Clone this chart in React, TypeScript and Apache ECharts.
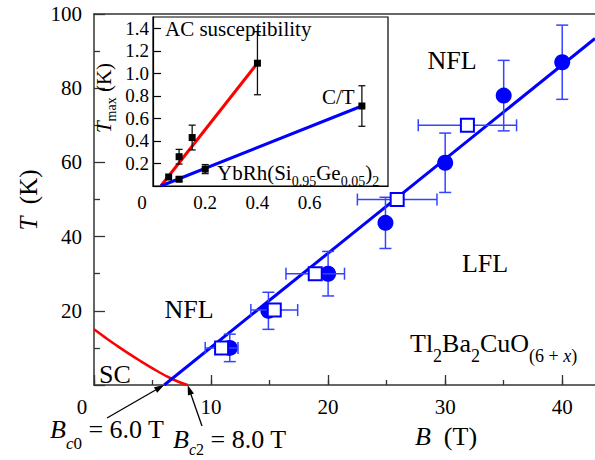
import React, { useEffect, useRef } from "react";
import * as echarts from "echarts";

const FONT = '"Liberation Serif", "Times New Roman", Times, serif';

// ---- Main panel: Tl2Ba2CuO(6+x) ----
const circleB = [11.6, 14.9, 20.0, 24.9, 30.0, 35.0, 40.0];
const circleT = [10.0, 20.0, 30.0, 43.7, 59.9, 78.0, 87.0];
const circleErrT = [3.7, 5.0, 6.0, 6.9, 8.0, 9.5, 10.0];
const squareB = [10.9, 15.4, 18.9, 25.9, 31.9];
const squareT = [10.0, 20.2, 30.0, 50.0, 70.0];
const squareErrB = [1.4, 2.0, 2.5, 3.4, 4.2];
const fitB = [6.0, 42.8];
const fitT = [0.0, 93.4];
const scB = [0, 1, 2, 3, 4, 5, 6, 7, 8];
const scT = [15.0, 12.7, 10.5, 8.4, 6.4, 4.5, 2.7, 1.15, 0.0];
const Bc0 = 6.0;
const Bc2 = 8.0;
const xTickLabels = [0, 10, 20, 30, 40];
const yTickLabels = [20, 40, 60, 80, 100];

// ---- Inset: YbRh2(Si0.95Ge0.05)2 ----
const acB = [0.06, 0.1, 0.15, 0.4];
const acT = [0.08, 0.26, 0.43, 1.09];
const acErr = [0.0, 0.065, 0.11, 0.28];
const ctB = [0.1, 0.2, 0.8];
const ctT = [0.06, 0.15, 0.71];
const ctErr = [0.02, 0.04, 0.18];
const acFitB = [0.03, 0.4];
const acFitT = [0.0, 1.09];
const ctFitB = [0.03, 0.8];
const ctFitT = [0.0, 0.71];
const insetXLabels = [0, 0.2, 0.4, 0.6];
const insetYLabels = [0.2, 0.4, 0.6, 0.8, 1.0, 1.2, 1.4];

const near = (a: number, b: number) => Math.abs(a - b) < 1e-6;

function vErr(color: string, cap: number, lw: number) {
  return (params: any, api: any) => {
    const x = api.value(0), y = api.value(1), e = api.value(2);
    const a = api.coord([x, y + e]);
    const b = api.coord([x, y - e]);
    const style = { stroke: color, lineWidth: lw };
    return {
      type: "group",
      children: [
        { type: "line", shape: { x1: a[0], y1: a[1], x2: b[0], y2: b[1] }, style },
        { type: "line", shape: { x1: a[0] - cap, y1: a[1], x2: a[0] + cap, y2: a[1] }, style },
        { type: "line", shape: { x1: b[0] - cap, y1: b[1], x2: b[0] + cap, y2: b[1] }, style },
      ],
    };
  };
}

function hErr(color: string, cap: number, lw: number) {
  return (params: any, api: any) => {
    const x = api.value(0), y = api.value(1), e = api.value(2);
    const a = api.coord([x - e, y]);
    const b = api.coord([x + e, y]);
    const style = { stroke: color, lineWidth: lw };
    return {
      type: "group",
      children: [
        { type: "line", shape: { x1: a[0], y1: a[1], x2: b[0], y2: b[1] }, style },
        { type: "line", shape: { x1: a[0], y1: a[1] - cap, x2: a[0], y2: a[1] + cap }, style },
        { type: "line", shape: { x1: b[0], y1: b[1] - cap, x2: b[0], y2: b[1] + cap }, style },
      ],
    };
  };
}

function richStyles(m: number, s: number, drop: number) {
  const P = 2 * (drop + 0.3375 * (m - s));
  return {
    m: { fontSize: m, fontFamily: FONT, fill: "#000", lineHeight: m * 1.2 },
    mi: { fontSize: m, fontFamily: FONT, fontStyle: "italic", fill: "#000", lineHeight: m * 1.2 },
    s: { fontSize: s, fontFamily: FONT, fill: "#000", lineHeight: s, padding: [P, 0, 0, 0] },
    si: { fontSize: s, fontFamily: FONT, fontStyle: "italic", fill: "#000", lineHeight: s, padding: [P, 0, 0, 0] },
  };
}

function rtext(x: number, baseline: number, text: string, m: number, s: number, drop: number, align = "left") {
  return {
    type: "text",
    x,
    y: baseline - 0.3375 * m,
    z: 50,
    style: {
      text,
      rich: richStyles(m, s, drop),
      fontSize: m,
      fontFamily: FONT,
      align,
      textAlign: align,
      verticalAlign: "middle",
      textVerticalAlign: "middle",
    },
  };
}

function ptext(x: number, y: number, text: string, size: number, align = "center") {
  return {
    type: "text",
    x,
    y,
    z: 50,
    style: {
      text,
      fontSize: size,
      fontFamily: FONT,
      fill: "#000",
      align,
      textAlign: align,
      verticalAlign: "middle",
      textVerticalAlign: "middle",
    },
  };
}

function arrow(tail: number[], tip: number[]) {
  const dx = tip[0] - tail[0], dy = tip[1] - tail[1];
  const len = Math.sqrt(dx * dx + dy * dy);
  const ux = dx / len, uy = dy / len;
  const hl = 10, hw = 3.2;
  const bx = tip[0] - ux * hl, by = tip[1] - uy * hl;
  return [
    {
      type: "line",
      z: 50,
      shape: { x1: tail[0], y1: tail[1], x2: bx + ux * 2, y2: by + uy * 2 },
      style: { stroke: "#000", lineWidth: 1.3 },
    },
    {
      type: "polygon",
      z: 50,
      shape: {
        points: [
          [tip[0], tip[1]],
          [bx - uy * hw, by + ux * hw],
          [bx + uy * hw, by - ux * hw],
        ],
      },
      style: { fill: "#000" },
    },
  ];
}

export default function App() {
  const ref = useRef<HTMLDivElement>(null);
  useEffect(() => {
    document.body.style.margin = "0";
    const chart = echarts.init(ref.current!, null, { renderer: "svg" });
    const axisCol = "#333";
    const XMAX = 42.8;
    const unit = (595 - 94) / XMAX;
    const option: any = {
      animation: false,
      grid: [
        { left: 94, top: 14, right: 0, height: 371, show: false },
        {
          left: 153,
          top: 17,
          width: 235,
          height: 169,
          show: true,
          backgroundColor: "#fff",
          borderColor: "#000",
          borderWidth: 1.2,
          z: 5,
        },
        // helper grid for minor ticks on the B axis (0..40 only)
        { left: 94, top: 14, width: 40 * unit, height: 371, show: false },
      ],
      xAxis: [
        {
          gridIndex: 0,
          type: "value",
          min: 0,
          max: XMAX,
          interval: 10,
          axisLine: { show: true, onZero: false, lineStyle: { color: axisCol, width: 1.5 } },
          axisTick: { show: true, inside: true, length: 10, lineStyle: { color: axisCol, width: 1.3 } },
          splitLine: { show: false },
          axisLabel: {
            fontSize: 21,
            fontFamily: FONT,
            color: "#000",
            margin: 11,
            showMaxLabel: false,
            formatter: (v: number) =>
              near(v, 0) ? "{z|0}" : xTickLabels.some((t) => near(t, v)) ? String(v) : "",
            rich: { z: { fontSize: 21, fontFamily: FONT, color: "#000", padding: [0, 24, 0, 0] } },
          },
        },
        {
          gridIndex: 0,
          type: "value",
          position: "top",
          min: 0,
          max: XMAX,
          axisLine: { show: true, onZero: false, lineStyle: { color: axisCol, width: 1.5 } },
          axisTick: { show: false },
          axisLabel: { show: false },
          splitLine: { show: false },
        },
        {
          gridIndex: 1,
          type: "value",
          min: 0,
          max: 0.9,
          interval: 0.2,
          axisLine: { show: true, onZero: false, lineStyle: { color: "#000", width: 1.2 } },
          axisTick: { show: false },
          splitLine: { show: false },
          z: 10,
          axisLabel: {
            fontSize: 19,
            fontFamily: FONT,
            color: "#000",
            margin: 7,
            formatter: (v: number) =>
              near(v, 0)
                ? "{z|0}"
                : insetXLabels.some((t) => near(t, v))
                ? (Math.round(v * 10) / 10).toFixed(1)
                : "",
            rich: { z: { fontSize: 19, fontFamily: FONT, color: "#000", padding: [0, 22, 0, 0] } },
          },
        },
        {
          gridIndex: 2,
          type: "value",
          min: 0,
          max: 40,
          interval: 5,
          axisLine: { show: false, onZero: false },
          axisTick: { show: true, inside: true, length: 5, lineStyle: { color: axisCol, width: 1.3 } },
          axisLabel: { show: false },
          splitLine: { show: false },
        },
      ],
      yAxis: [
        {
          gridIndex: 0,
          type: "value",
          min: 0,
          max: 100,
          interval: 20,
          axisLine: { show: true, onZero: false, lineStyle: { color: axisCol, width: 1.5 } },
          axisTick: { show: true, inside: true, length: 11, lineStyle: { color: axisCol, width: 1.3 } },
          minorTick: { show: true, splitNumber: 2, length: 6, lineStyle: { color: axisCol, width: 1.3 } },
          splitLine: { show: false },
          axisLabel: {
            fontSize: 21,
            fontFamily: FONT,
            color: "#000",
            margin: 12,
            formatter: (v: number) => (yTickLabels.some((t) => near(t, v)) ? String(v) : ""),
          },
        },
        {
          gridIndex: 1,
          type: "value",
          min: 0,
          max: 1.5,
          interval: 0.2,
          z: 10,
          axisLine: { show: true, onZero: false, lineStyle: { color: "#000", width: 1.2 } },
          axisTick: { show: true, inside: true, length: 8, lineStyle: { color: "#000", width: 1.2 } },
          splitLine: { show: false },
          axisLabel: {
            fontSize: 19,
            fontFamily: FONT,
            color: "#000",
            margin: 4,
            showMaxLabel: false,
            formatter: (v: number) =>
              insetYLabels.some((t) => near(t, v)) ? v.toFixed(1) : "",
          },
        },
        {
          gridIndex: 2,
          type: "value",
          min: 0,
          max: 100,
          show: false,
        },
      ],
      series: [
        {
          type: "line",
          xAxisIndex: 0,
          yAxisIndex: 0,
          data: scB.map((b, i) => [b, scT[i]]),
          smooth: true,
          symbol: "none",
          lineStyle: { color: "#ff0000", width: 2.5 },
          z: 3,
        },
        {
          type: "line",
          xAxisIndex: 0,
          yAxisIndex: 0,
          data: fitB.map((b, i) => [b, fitT[i]]),
          symbol: "none",
          lineStyle: { color: "#0000ff", width: 3 },
          z: 3,
        },
        {
          type: "custom",
          xAxisIndex: 0,
          yAxisIndex: 0,
          renderItem: vErr("#3344ff", 6, 1.5),
          data: circleB.map((b, i) => [b, circleT[i], circleErrT[i]]),
          encode: { x: 0, y: 1 },
          z: 4,
        },
        {
          type: "scatter",
          xAxisIndex: 0,
          yAxisIndex: 0,
          data: circleB.map((b, i) => [b, circleT[i]]),
          symbol: "circle",
          symbolSize: 16,
          itemStyle: { color: "#0000ff", opacity: 1 },
          z: 5,
        },
        {
          type: "custom",
          xAxisIndex: 0,
          yAxisIndex: 0,
          renderItem: hErr("#3344ff", 6, 1.5),
          data: squareB.map((b, i) => [b, squareT[i], squareErrB[i]]),
          encode: { x: 0, y: 1 },
          z: 6,
        },
        {
          type: "scatter",
          xAxisIndex: 0,
          yAxisIndex: 0,
          data: squareB.map((b, i) => [b, squareT[i]]),
          symbol: "rect",
          symbolSize: 13,
          itemStyle: { color: "#ffffff", borderColor: "#0000ff", borderWidth: 2, opacity: 1 },
          z: 7,
        },
        // inset
        {
          type: "line",
          xAxisIndex: 2,
          yAxisIndex: 1,
          data: acFitB.map((b, i) => [b, acFitT[i]]),
          symbol: "none",
          lineStyle: { color: "#ff0000", width: 3 },
          z: 10,
        },
        {
          type: "line",
          xAxisIndex: 2,
          yAxisIndex: 1,
          data: ctFitB.map((b, i) => [b, ctFitT[i]]),
          symbol: "none",
          lineStyle: { color: "#0000ff", width: 3 },
          z: 10,
        },
        {
          type: "custom",
          xAxisIndex: 2,
          yAxisIndex: 1,
          renderItem: vErr("#111", 3.5, 1.3),
          data: acB
            .map((b, i) => [b, acT[i], acErr[i]])
            .filter((d) => d[2] > 0)
            .concat(ctB.map((b, i) => [b, ctT[i], ctErr[i]])),
          encode: { x: 0, y: 1 },
          z: 11,
        },
        {
          type: "scatter",
          xAxisIndex: 2,
          yAxisIndex: 1,
          data: acB.map((b, i) => [b, acT[i]]).concat(ctB.map((b, i) => [b, ctT[i]])),
          symbol: "rect",
          symbolSize: 7,
          itemStyle: { color: "#000", opacity: 1 },
          z: 12,
        },
      ],
    };
    chart.setOption(option);

    const tip0 = chart.convertToPixel({ xAxisIndex: 0, yAxisIndex: 0 }, [Bc0, 0]) as number[];
    const tip2 = chart.convertToPixel({ xAxisIndex: 0, yAxisIndex: 0 }, [Bc2, 0]) as number[];

    const graphics: any[] = [
      ptext(452, 60, "NFL", 26),
      ptext(485, 263, "LFL", 26),
      ptext(189, 309, "NFL", 26),
      ptext(99, 374, "SC", 26, "left"),
      rtext(410, 352, "{m|Tl}{s|2}{m|Ba}{s|2}{m|CuO}{s|(6 + }{si|x}{s|)}", 26, 18, 10),
      rtext(50, 438, "{mi|B}{si|c}{s|0}{m| = 6.0 T}", 26, 17, 11),
      rtext(173, 448, "{mi|B}{si|c}{s|2}{m| = 8.0 T}", 26, 16, 7),
      rtext(446, 445, "{mi|B}{m|  (T)}", 26, 17, 0, "center"),
      {
        ...rtext(0, 0, "{mi|T}{m|  (K)}", 25, 17, 0, "center"),
        x: 28,
        y: 200,
        rotation: Math.PI / 2,
      },
      ptext(165, 29, "AC susceptibility", 21, "left"),
      ptext(322, 97, "C/T", 21, "left"),
      rtext(217, 180, "{m|YbRh(Si}{s|0.95}{m|Ge}{s|0.05}{m|)}{s|2}", 21, 14, 6),
      {
        ...rtext(0, 0, "{mi|T}{s|max}{m| (K)}", 21, 14, 5, "center"),
        x: 104,
        y: 98,
        rotation: Math.PI / 2,
      },
      ...arrow([107, 418], tip0),
      ...arrow([202, 426], tip2),
    ];
    chart.setOption({ graphic: graphics });

    return () => chart.dispose();
  }, []);
  return (
    <div
      ref={ref}
      style={{ width: 595, height: 460, position: "absolute", left: 0, top: 0, background: "#fff" }}
    />
  );
}
